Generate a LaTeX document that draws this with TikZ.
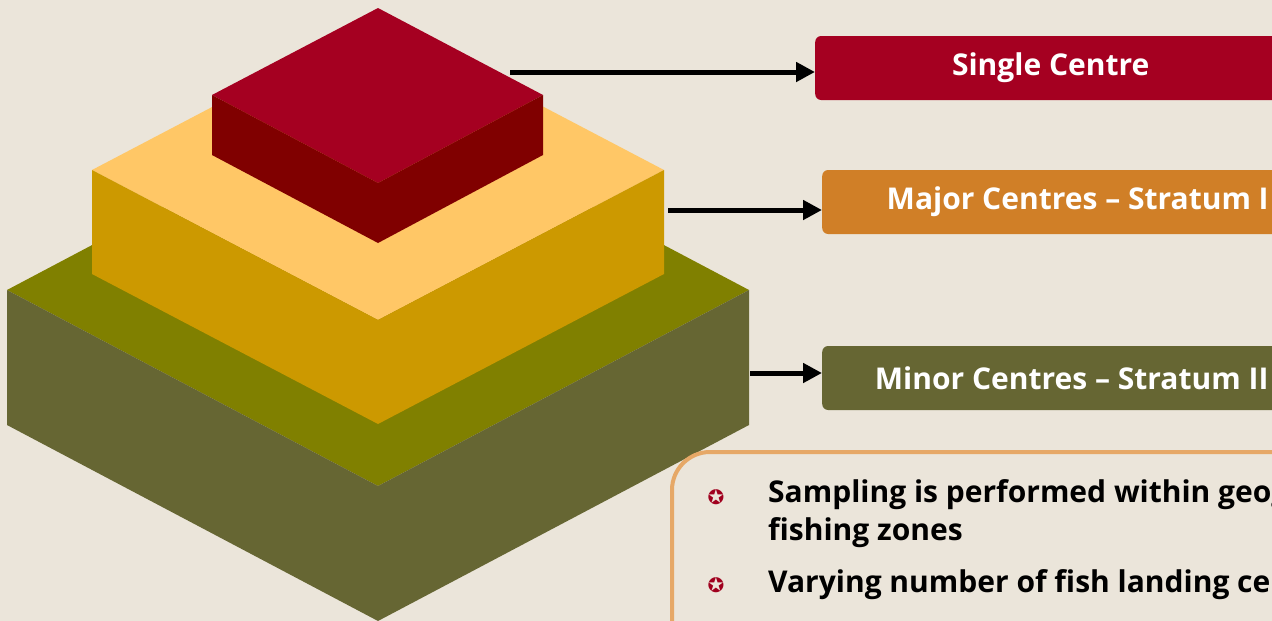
\documentclass[tikz,border=0pt]{standalone}
\usepackage{fontspec}
\setmainfont{Open Sans}
\newfontfamily\symfont{DejaVu Sans}
\usetikzlibrary{arrows.meta,positioning,calc}
\definecolor{bgbeige}{HTML}{EBE5DA}
\definecolor{redtop}{HTML}{A50021}
\definecolor{redside}{HTML}{800000}
\definecolor{yeltop}{HTML}{FFC766}
\definecolor{yelside}{HTML}{CC9900}
\definecolor{olvtop}{HTML}{808000}
\definecolor{olvside}{HTML}{666633}
\definecolor{majorfill}{HTML}{D07F27}
\definecolor{notebrd}{HTML}{E6A867}
\definecolor{starred}{HTML}{A0001E}
\tikzset{
  labelbox/.style ={rounded corners=6pt,anchor=west,inner sep=0pt,
                    minimum height=64pt,text=white,
                    font=\bfseries\fontsize{30}{36}\selectfont},
  pointer/.style  ={-{Triangle[length=19pt,width=19pt]},line width=5pt},
  notebox/.style  ={draw=notebrd,line width=4pt,fill=bgbeige,rounded corners=38pt},
  bullet/.style   ={text=starred,inner sep=0pt,font=\symfont\fontsize{20}{20}\selectfont},
  itemtext/.style ={anchor=north west,align=left,inner sep=0pt,
                    font=\bfseries\fontsize{30}{38}\selectfont},
}

\begin{document}
\begin{tikzpicture}[x=1pt,y=-1pt]
\useasboundingbox (0,0) rectangle (1272,621);
\fill[bgbeige] (0,0) rectangle (1272,621);
% Bottom slab (minor centres)
\fill[olvtop]  (7,290) -- (378,94) -- (749,290) -- (378,486) -- cycle;
\fill[olvside] (7,290) -- (378,486) -- (378,621) -- (7,425) -- cycle;
\fill[olvside] (378,486) -- (749,290) -- (749,425) -- (378,621) -- cycle;
% Middle slab (major centres)
\fill[yeltop]  (92,170) -- (378,20) -- (664,170) -- (378,320) -- cycle;
\fill[yelside] (92,170) -- (378,320) -- (378,424) -- (92,274) -- cycle;
\fill[yelside] (378,320) -- (664,170) -- (664,274) -- (378,424) -- cycle;
% Top block (single centre)
\fill[redtop]  (212,95) -- (378,8) -- (543,95) -- (378,183) -- cycle;
\fill[redside] (212,95) -- (378,183) -- (378,243) -- (212,155) -- cycle;
\fill[redside] (378,183) -- (543,95) -- (543,155) -- (378,243) -- cycle;
% Labels
\node[labelbox,fill=redtop,minimum width=471pt]    (single) at (815,68)  {Single Centre};
\node[labelbox,fill=majorfill,minimum width=511pt] (major)  at (822,202) {Major Centres – Stratum I};
\node[labelbox,fill=olvside,minimum width=499pt]   (minor)  at (822,378) {Minor Centres – Stratum II};
% Pointers
\coordinate (p1) at (510,72);
\coordinate (p2) at (668,210);
\coordinate (p3) at (750,373);
\draw[pointer] (p1) -- (p1 -| single.west);
\draw[pointer] (p2) -- (p2 -| major.west);
\draw[pointer] (p3) -- (p3 -| minor.west);
% Notes
\node[notebox,anchor=north west,minimum width=660pt,minimum height=280pt] (notes) at (670,450) {};
\node[bullet] (b1) at (716,497) {✪};
\node[bullet] (b2) at (716,585) {✪};
\node[itemtext] (t1) at (768,479) {Sampling is performed within geographical\\fishing zones};
\node[itemtext] (t2) at (768,569) {Varying number of fish landing centres};
\end{tikzpicture}
\end{document}
